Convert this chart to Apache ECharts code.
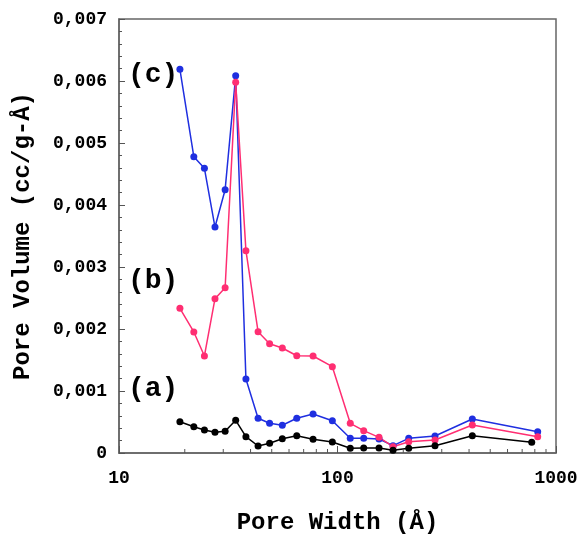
<!DOCTYPE html>
<html>
<head>
    <meta charset="utf-8">
    <title>Pore size distribution</title>
    <script src="https://cdn.jsdelivr.net/npm/echarts@6/dist/echarts.min.js"></script>
</head>
<style>
    *{
        margin: 0;
        padding: 0;
    }
    #chart{
        width: 579px;
        height: 538px;
    }
</style>
<body>
<div id="chart"></div>
<script>
    // pore width (Å)
    let widths = [19.0, 22.0, 24.6, 27.5, 30.6, 34.2, 38.1, 43.3, 48.9, 55.9, 65.1, 77.3, 94.7, 114.4, 131.8, 154.9, 179.5, 211.8, 279.4, 414.0, 824.5];
    let widthsA = [19.0, 22.0, 24.6, 27.5, 30.6, 34.2, 38.1, 43.3, 48.9, 55.9, 65.1, 77.3, 94.7, 114.4, 131.8, 154.9, 179.5, 211.8, 279.4, 414.0, 774.3];

    // pore volume (cc/g-Å)
    let volA = [0.000505, 0.000424, 0.000371, 0.000334, 0.000350, 0.000527, 0.000263, 0.000113, 0.000156, 0.000231, 0.000279, 0.000221, 0.000177, 0.000076, 0.000081, 0.000081, 0.000044, 0.000076, 0.000118, 0.000279, 0.000173];
    let volB = [0.002334, 0.001952, 0.001565, 0.002489, 0.002666, 0.005979, 0.003263, 0.001956, 0.001763, 0.001694, 0.001569, 0.001565, 0.001392, 0.000479, 0.000360, 0.000253, 0.000102, 0.000182, 0.000210, 0.000452, 0.000263];
    let volC = [0.006189, 0.004779, 0.004592, 0.003645, 0.004247, 0.006085, 0.001194, 0.000560, 0.000479, 0.000447, 0.000560, 0.000629, 0.000521, 0.000237, 0.000237, 0.000226, 0.000118, 0.000237, 0.000274, 0.000548, 0.000343];

    let xMinorTicks = [20, 30, 40, 50, 60, 70, 80, 90, 200, 300, 400, 500, 600, 700, 800, 900];
    let xLabels = [10, 100, 1000];

    let font = 'Liberation Mono';
    let chart = echarts.init(document.getElementById('chart'));

    function pairs(xs, ys){
        return xs.map((x, i) => [x, ys[i]]);
    }

    function lineSeries(name, xs, ys, color){
        return {
            name: name,
            type: 'line',
            data: pairs(xs, ys),
            symbol: 'circle',
            symbolSize: 7,
            lineStyle: {color: color, width: 1.5},
            itemStyle: {color: color},
            z: 3
        };
    }

    let option = {
        backgroundColor: '#fff',
        animation: false,
        grid: {
            left: 119,
            right: 23,
            top: 19,
            bottom: 85,
            outerBoundsMode: 'none',
            containLabel: false,
            show: true,
            borderColor: '#666',
            borderWidth: 1.5
        },
        xAxis: {
            type: 'log',
            logBase: 10,
            min: 10,
            max: 1000,
            name: 'Pore Width (Å)',
            nameLocation: 'middle',
            nameGap: 58,
            nameTextStyle: {fontFamily: font, fontWeight: 'bold', fontSize: 24, color: '#000'},
            axisLine: {lineStyle: {color: '#666', width: 1.5}},
            axisTick: {inside: true, length: 7, lineStyle: {color: '#555'}},
            splitLine: {show: false},
            axisLabel: {
                fontFamily: font, fontWeight: 'bold', fontSize: 18, color: '#000', margin: 16,
                formatter: v => xLabels.includes(Math.round(v)) ? String(Math.round(v)) : ''
            }
        },
        yAxis: {
            type: 'value',
            min: 0,
            max: 0.007,
            interval: 0.001,
            name: 'Pore Volume (cc/g-Å)',
            nameLocation: 'middle',
            nameGap: 84,
            nameRotate: 90,
            nameTextStyle: {fontFamily: font, fontWeight: 'bold', fontSize: 24, color: '#000'},
            axisLine: {show: true, lineStyle: {color: '#666', width: 1.5}},
            axisTick: {show: true, inside: true, length: 6, lineStyle: {color: '#555'}},
            minorTick: {show: true, splitNumber: 5, length: 3, lineStyle: {color: '#555'}},
            splitLine: {show: false},
            axisLabel: {
                fontFamily: font, fontWeight: 'bold', fontSize: 18, color: '#000', margin: 12,
                formatter: v => v === 0 ? '0' : v.toFixed(3).replace('.', ',')
            }
        },
        series: [
            lineSeries('(c)', widths, volC, '#1f2fe0'),
            lineSeries('(b)', widths, volB, '#ff2e72'),
            lineSeries('(a)', widthsA, volA, '#000'),
            {
                // log minor ticks on the x axis
                type: 'custom',
                silent: true,
                clip: false,
                data: xMinorTicks.map(v => [v, 0]),
                renderItem: function (params, api) {
                    let p = api.coord([api.value(0), 0]);
                    return {
                        type: 'line',
                        shape: {x1: p[0], y1: p[1], x2: p[0], y2: p[1] - 4},
                        style: {stroke: '#555', lineWidth: 1}
                    };
                },
                z: 5
            }
        ],
        graphic: [
            {type: 'text', left: 128, top: 61, style: {text: '(c)', font: 'bold 28px ' + font, fill: '#000'}},
            {type: 'text', left: 128, top: 267, style: {text: '(b)', font: 'bold 28px ' + font, fill: '#000'}},
            {type: 'text', left: 128, top: 375, style: {text: '(a)', font: 'bold 28px ' + font, fill: '#000'}}
        ]
    };
    chart.setOption(option);
</script>
</body>
</html>
